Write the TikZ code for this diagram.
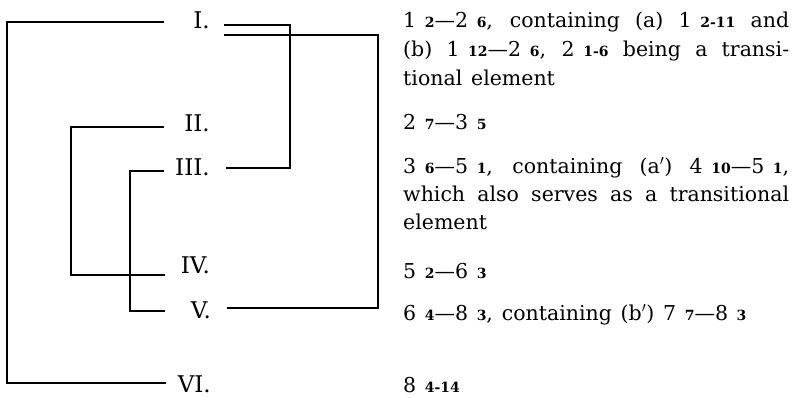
\documentclass[tikz,border=0pt]{standalone}
\usepackage{fontspec}
\setmainfont[WordSpace=1.35]{DejaVu Serif}
\usepackage{tikz}

% small bold verse numbers set after the chapter figures
\newcommand{\vs}[1]{\hspace{0.42em}{\fontsize{14}{14}\bfseries\selectfont #1}}
% justified line of fixed width
\newcommand{\jline}[1]{\makebox[386pt][s]{#1}}

\begin{document}
\begin{tikzpicture}[x=1pt,y=-1pt,
  bracket/.style={line width=1.8pt,line cap=rect},
  numeral/.style={anchor=base east,inner sep=0pt,font=\fontsize{23}{23}\selectfont},
  txt/.style={anchor=base west,inner sep=0pt,font=\fontsize{20.5}{28}\selectfont}]
\useasboundingbox (0,0) rectangle (792,397);

% section numerals
\node[numeral] (nI)   at (210,28)  {I.};
\node[numeral] (nII)  at (210,131) {II.};
\node[numeral] (nIII) at (210,175) {III.};
\node[numeral] (nIV)  at (210,273) {IV.};
\node[numeral] (nV)   at (211,318) {V.};
\node[numeral] (nVI)  at (211,392) {VI.};

% bracket ends, left of the numerals
\coordinate (I-l)   at (163,22);
\coordinate (II-l)  at (163,127);
\coordinate (III-l) at (163,171);
\coordinate (IV-l)  at (164,275);
\coordinate (V-l)   at (164,311);
\coordinate (VI-l)  at (165,383);
% bracket ends, right of the numerals
\coordinate (I-ra)  at (225,25);
\coordinate (I-rb)  at (225,35);
\coordinate (III-r) at (227,168);
\coordinate (V-r)   at (228,308);

% left brackets
\draw[bracket] (I-l) -- ++(-156,0) |- (VI-l);
\draw[bracket] (II-l) -- ++(-92,0) |- (IV-l);
\draw[bracket] (III-l) -- ++(-33,0) |- (V-l);
% right brackets
\draw[bracket] (I-ra) -- ++(65,0) |- (III-r);
\draw[bracket] (I-rb) -- ++(153,0) |- (V-r);

% descriptions
\node[txt] (t1a) at (403,27) {\jline{1\vs{2}---2\vs{6}, containing (a) 1\vs{2-11} and}};
\node[txt] (t1b) at (403,56) {\jline{(b) 1\vs{12}---2\vs{6}, 2\vs{1-6} being a transi-}};
\node[txt] (t1c) at (403,85) {tional element};
\node[txt] (t2)  at (403,129) {2\vs{7}---3\vs{5}};
\node[txt] (t3a) at (403,173) {\jline{3\vs{6}---5\vs{1}, containing (a$'$) 4\vs{10}---5\vs{1},}};
\node[txt] (t3b) at (403,201) {\jline{which also serves as a transitional}};
\node[txt] (t3c) at (403,229) {element};
\node[txt] (t4)  at (403,278) {5\vs{2}---6\vs{3}};
\node[txt] (t5)  at (403,320) {6\vs{4}---8\vs{3}, containing (b$'$) 7\vs{7}---8\vs{3}};
\node[txt] (t6)  at (403,392) {8\vs{4-14}};
\end{tikzpicture}
\end{document}
